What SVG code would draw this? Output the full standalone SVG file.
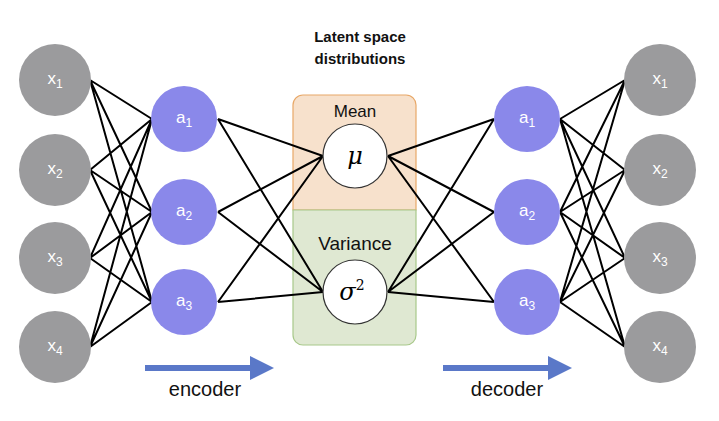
<svg xmlns="http://www.w3.org/2000/svg" width="719" height="421" viewBox="0 0 719 421">
<style>
.x{fill:#9b9b9d}
.a{fill:#8a88ea}
.t{font-family:"Liberation Sans",Arial,sans-serif;fill:#fff;font-size:17px;text-anchor:middle}
.s{font-size:12px}
.l{stroke:#000;stroke-width:2;fill:none}
.lab{font-family:"Liberation Sans",Arial,sans-serif;font-size:20px;text-anchor:middle;fill:#111}
</style>
<defs>
<marker id="ah" markerWidth="4" markerHeight="4" refX="2" refY="2" orient="auto"><path d="M0,0L4,2L0,4z" fill="#5a78c8"/></marker>
</defs>
<rect width="719" height="421" fill="#fff"/>
<g id="latent-box">
<path d="M293,210V105a10,10 0 0 1 10,-10H406a10,10 0 0 1 10,10V210z" fill="#f7e1cc" stroke="#e8a868" stroke-width="1.2"/>
<path d="M293,210V335a10,10 0 0 0 10,10H406a10,10 0 0 0 10,-10V210z" fill="#dfe8d2" stroke="#a8c88a" stroke-width="1.2"/>
<text x="355" y="117" class="lab" style="font-size:17px">Mean</text>
<text x="355" y="250" class="lab" style="font-size:19px">Variance</text>
</g>
<g id="connectors" class="l">
<path d="M90,80L152,119M90,80L152,212M90,80L152,302M90,170L152,119M90,170L152,212M90,170L152,302M90,258L152,119M90,258L152,212M90,258L152,302M90,347L152,119M90,347L152,212M90,347L152,302"/>
<path d="M218,119L323,156M218,119L323,292M218,212L323,156M218,212L323,292M218,302L323,156M218,302L323,292"/>
<path d="M388,156L494,119M388,156L494,212M388,156L494,302M388,292L494,119M388,292L494,212M388,292L494,302"/>
<path d="M560,119L625,80M560,119L625,170M560,119L625,258M560,119L625,347M560,212L625,80M560,212L625,170M560,212L625,258M560,212L625,347M560,302L625,80M560,302L625,170M560,302L625,258M560,302L625,347"/>
<path d="M145,368H262" stroke="#5a78c8" stroke-width="6" marker-end="url(#ah)"/>
<path d="M443,368H560" stroke="#5a78c8" stroke-width="6" marker-end="url(#ah)"/>
</g>
<g id="x1"><circle cx="55" cy="80" r="36" class="x"/><text x="55" y="84" class="t">x<tspan class="s" dy="4">1</tspan></text></g>
<g id="x2"><circle cx="55" cy="170" r="36" class="x"/><text x="55" y="174" class="t">x<tspan class="s" dy="4">2</tspan></text></g>
<g id="x3"><circle cx="55" cy="258" r="36" class="x"/><text x="55" y="262" class="t">x<tspan class="s" dy="4">3</tspan></text></g>
<g id="x4"><circle cx="55" cy="347" r="36" class="x"/><text x="55" y="351" class="t">x<tspan class="s" dy="4">4</tspan></text></g>
<g id="a1"><circle cx="184" cy="119" r="33" class="a"/><text x="184" y="123" class="t">a<tspan class="s" dy="4">1</tspan></text></g>
<g id="a2"><circle cx="184" cy="212" r="33" class="a"/><text x="184" y="216" class="t">a<tspan class="s" dy="4">2</tspan></text></g>
<g id="a3"><circle cx="184" cy="302" r="33" class="a"/><text x="184" y="306" class="t">a<tspan class="s" dy="4">3</tspan></text></g>
<g id="mu"><circle cx="355" cy="156" r="32" fill="#fff" stroke="#333" stroke-width="1.2"/><text x="355" y="164" style="font-family:'DejaVu Serif',serif;font-style:italic;font-size:24px;text-anchor:middle">μ</text></g>
<g id="sigma"><circle cx="355" cy="292" r="32" fill="#fff" stroke="#333" stroke-width="1.2"/><text x="352" y="300" style="font-family:'DejaVu Serif',serif;font-style:italic;font-size:24px;text-anchor:middle">σ<tspan dy="-10" font-size="14" font-style="normal">2</tspan></text></g>
<g id="b1"><circle cx="527" cy="119" r="33" class="a"/><text x="527" y="123" class="t">a<tspan class="s" dy="4">1</tspan></text></g>
<g id="b2"><circle cx="527" cy="212" r="33" class="a"/><text x="527" y="216" class="t">a<tspan class="s" dy="4">2</tspan></text></g>
<g id="b3"><circle cx="527" cy="302" r="33" class="a"/><text x="527" y="306" class="t">a<tspan class="s" dy="4">3</tspan></text></g>
<g id="y1"><circle cx="660" cy="80" r="36" class="x"/><text x="660" y="84" class="t">x<tspan class="s" dy="4">1</tspan></text></g>
<g id="y2"><circle cx="660" cy="170" r="36" class="x"/><text x="660" y="174" class="t">x<tspan class="s" dy="4">2</tspan></text></g>
<g id="y3"><circle cx="660" cy="258" r="36" class="x"/><text x="660" y="262" class="t">x<tspan class="s" dy="4">3</tspan></text></g>
<g id="y4"><circle cx="660" cy="347" r="36" class="x"/><text x="660" y="351" class="t">x<tspan class="s" dy="4">4</tspan></text></g>
<text x="360" y="42" class="lab" style="font-size:15px;font-weight:bold">Latent space</text>
<text x="360" y="64" class="lab" style="font-size:15px;font-weight:bold">distributions</text>
<text x="205" y="396" class="lab">encoder</text>
<text x="507" y="396" class="lab">decoder</text>
</svg>
